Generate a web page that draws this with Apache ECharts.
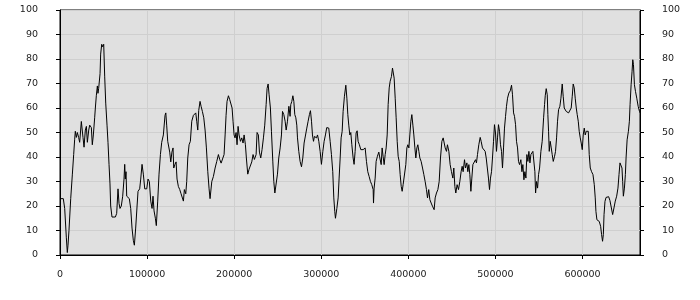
<!DOCTYPE html>
<html>
<head>
<meta charset="utf-8">
<script src="https://cdn.jsdelivr.net/npm/echarts@6/dist/echarts.min.js"></script>
<style>
html,body{margin:0;padding:0;background:#fff;}
#c{width:700px;height:300px;}
</style>
</head>
<body>
<div id="c"></div>
<script>
// x positions of the samples
var xValues = [
0,3800,5400,7300,8400,9200,10300,12300,14200,15700,16800,17600,18800,19900,21400,22600,24500,26400,27600,29100,
30300,31400,33000,34100,36000,37100,38300,39800,40600,41700,42900,43600,44400,46000,46700,47900,49000,50200,51300,52500,
54000,55100,56300,57400,58200,59700,63600,65100,66600,67800,68900,70400,72000,73500,74300,75000,75800,76600,79600,81200,
82700,84200,85400,86900,88500,89600,91500,92700,94200,95700,97300,99600,101100,102600,104200,105700,106800,108000,109500,110600,
112200,113700,115300,116800,118700,120600,121500,122500,123700,126000,127200,128500,129800,130600,132000,133300,134400,135900,137500,139000,
140400,141700,142800,144400,145500,146700,148200,149700,151300,153200,154500,155900,157000,158200,159300,160800,162000,163500,165100,166600,
168100,169700,171200,172300,173400,174300,176100,178100,180000,181900,183400,185000,186900,188400,189600,190700,191800,193400,194900,196400,
197600,198700,199900,201000,202200,203300,204500,205600,207200,208700,210200,211400,212900,214000,215600,217100,218600,220200,221700,223200,
225200,226300,227800,229000,230500,232000,233600,235100,236700,237800,239000,240100,241600,242800,244400,245500,246700,248100,249700,251200,
252800,254300,255500,257000,258500,259700,261200,262800,264200,265000,266200,267400,268500,269600,270800,271900,272700,274200,275700,277300,
278800,280300,281900,283400,284900,286400,287600,288800,289900,291100,292200,293400,294500,295700,297200,298700,300200,301800,303300,304800,
306300,308600,310200,311700,313200,314400,315500,316300,317900,319400,320500,321700,322800,324000,325100,326600,328200,329400,330500,331600,
332800,333900,335100,336600,337700,338900,340000,341200,342300,343800,345400,346700,348100,349200,350400,351900,353400,355000,356500,358000,
359600,360000,360700,361900,363000,364500,366100,367300,368800,369900,371000,372200,373400,374500,375700,376800,378000,379100,380600,381800,
382900,383700,384900,386000,387200,388300,389500,390600,391800,392900,394000,395800,397100,398300,399400,400600,401700,402900,404000,405200,
406300,407500,408600,409800,410900,412100,413200,414700,416300,417800,419300,420800,422000,423400,424700,426200,427700,429600,430800,432300,
433900,435400,436900,438500,440000,441200,442300,443800,444900,446500,448000,449500,451100,452200,453400,454500,456000,457600,459100,460600,
461800,462900,464500,465600,467200,468300,469500,470600,471800,472900,474100,475600,477100,478200,479400,480900,482500,483600,485100,486700,
488200,489400,490800,492000,493200,494300,495500,496600,497800,498900,500100,501200,502400,503500,504700,505800,507000,508100,509300,510400,
511600,512700,513900,515400,517000,518500,519600,520800,521900,523100,524200,525400,526500,527700,529200,530400,531500,532700,533800,535000,
536100,537300,538400,539600,540700,541900,543000,544200,545300,546100,547200,548400,549500,550700,552200,553700,555300,556400,557200,558300,
559500,560200,561000,561800,562900,564100,565200,566400,567900,569000,570200,571300,572500,574000,575200,576700,577800,579000,580100,581300,
582400,584000,585500,587000,588200,589300,590500,591600,592800,593900,595100,596200,597400,598500,599700,600800,602000,603100,604300,605400,
606600,607700,608900,610400,612000,613500,614600,615400,616500,618100,619200,620800,621900,623000,623900,624700,625800,627000,628400,630000,
631500,633000,634600,636100,637600,639200,640700,641900,643000,644200,645300,646100,646900,648100,649200,650000,651200,652700,653800,654600,
655800,656900,657700,658500,659600,660800,662300,663900,665400,666200
];
// series values
var yValues = [
23,23,19,7,1,4,10,23,33,41,47,50.5,48,50,48,46,54.5,48,44,51,
52.5,46,51,53,52,45,49,56,60,65,69,66,68,74,82,86,85,86,73,62,
53,46,37,29,20,15.5,15.5,17,27,21,19,20,24,31,37,31,34,24,23,19,
11,6,4,11,20,26,27,31,37,33,27,27,31,30,22,19,24,18,15,12,
22,33,41,46,49,57,58,53,46.4,42,38,42,43.7,35.5,37,38,31,28,26.7,25,
24.6,22,26.7,25,30,39.6,45,46.4,54.6,57,56.6,58,54.6,51,59,62.7,60.7,58.6,56,51,
43.7,34,27,23,23,30,32,35.5,38.2,41,39,37.5,37,41,49,57,62.7,65,63.4,64,
60,54.6,49,47.8,50,45,52.5,49,46.4,47.8,45.7,49,45,39.6,33,35,35.5,38,41,39,
41,50,49,42,39.6,43,47.8,53,61.4,68,69.8,65.4,60,50.5,38,30,25.3,26,33,39.6,
43.7,49,58.6,57.3,54.6,51,54.6,60.7,56.6,61.4,62.7,65,62.7,57.3,56,53,47.8,42.3,38.2,36,
39.6,45.7,46.4,51.8,54.6,57.3,58.9,54.6,49,46.4,48.4,49,47.8,49,46.4,42.3,37,42.3,46.4,49,
52,51.8,46.4,41,34,23.3,17.8,15,19,23.3,31.4,39.6,47.8,50.5,58.6,64.8,69.3,64,57.3,53,
49,50,45,39.6,37,42.3,49.8,50.7,46.4,45,43,42.3,43,42.3,43.7,38.2,34,32,30,28.7,
26.7,21.2,27.3,31.4,38.2,40.3,42,39.6,36.9,43.7,40.3,36.9,41,43.7,49,61.4,68.2,70.9,72.9,76.3,
77,72.2,64,56,46.4,40.3,38.2,32.8,28,26,28.7,28.7,36.9,43.7,45,43.7,49,54.6,57.3,53,
49,43.7,39.6,43.7,45,42.3,39.6,38.2,35.5,32.8,30,26.7,23.3,26.7,22.6,21.2,19.9,18.5,23.3,25.3,
26.7,30,39.6,46.4,47.8,47.8,43.7,42.3,45,42.3,36.9,34,31.4,35.5,28,25.3,28.7,26.7,30,34,
36.2,34,38.9,35.5,37.6,34,36.9,32.8,26,31.4,36.9,36.9,38.9,37.6,41,45,48,46.4,43.7,43,
42.3,39.6,39.6,31.4,26.7,31.4,34,39.6,46.4,53.2,49.8,42.3,47.8,53.2,50.5,45,42.3,35.5,43.7,51.8,
56.6,60.7,64,66.1,67,69.3,65.4,58,56.6,53.2,46.4,43.7,38.2,36.9,38.9,34,36.9,30.7,34,31.4,
41,38.2,42.3,37.6,41,40.3,42.3,43,34,25.3,30,27.3,32.8,35.5,42.3,46.4,56,61.4,65,67.9,
65.4,57.3,50.5,42.3,46.4,43.7,41,38.2,40.3,42.3,47.8,54.6,59.3,60.7,64,69.8,64.8,60,60.7,58.6,
59.3,58,57.3,60,64.8,69.8,68.2,64,60,57.3,54.6,50.5,47.8,45.7,43,49,51.8,49,50.5,49.8,
50.5,41,35.5,34,32.8,28.7,23.3,17.8,14.4,14.1,13.7,11.7,8.3,5.6,8.3,16.5,21.9,23.5,24,23.8,
22.2,22,16.5,19.2,22,24,27.3,32.8,37.6,38.2,35.5,30,24,27.3,32.8,39.6,47,50.5,54.6,61.4,
69.5,75,79.7,77.7,69.5,66.8,64,60.7,58.6,58
];
var xMin = 0, xMax = 666000, xStep = 100000;
var yMin = 0, yMax = 100, yStep = 10;

var points = xValues.map(function(x, i){ return [x, yValues[i]]; });

var chart = echarts.init(document.getElementById('c'), null, {renderer:'canvas'});
var labelStyle = {color:'#222', fontFamily:'DejaVu Sans', fontSize:9.5};
function plain(v){ return String(v); }
function yAxis(pos){
  return {
    type:'value', position:pos, min:yMin, max:yMax, interval:yStep,
    axisLine:{show:true, lineStyle:{color:'#000', width:1}},
    axisTick:{show:true, inside:false, length:4, lineStyle:{color:'#000'}},
    axisLabel:Object.assign({margin:22, formatter:plain}, labelStyle),
    splitLine:{show: pos==='left', lineStyle:{color:'#cfcfcf', width:1}}
  };
}
chart.setOption({
  animation:false,
  grid:{left:60, right:60, top:10, bottom:45, show:true, backgroundColor:'#e0e0e0', borderColor:'#000', borderWidth:1},
  xAxis:{
    type:'value', min:xMin, max:xMax, interval:xStep,
    axisLine:{show:true, onZero:false, lineStyle:{color:'#000', width:1}},
    axisTick:{show:true, length:4, lineStyle:{color:'#000'}},
    axisLabel:Object.assign({margin:15, showMaxLabel:false, formatter:plain}, labelStyle),
    splitLine:{show:true, lineStyle:{color:'#cfcfcf', width:1}}
  },
  yAxis:[yAxis('left'), yAxis('right')],
  series:[{
    type:'line', data:points, showSymbol:false, symbol:'none',
    lineStyle:{color:'#000', width:1}, yAxisIndex:0
  }]
});
</script>
</body>
</html>
